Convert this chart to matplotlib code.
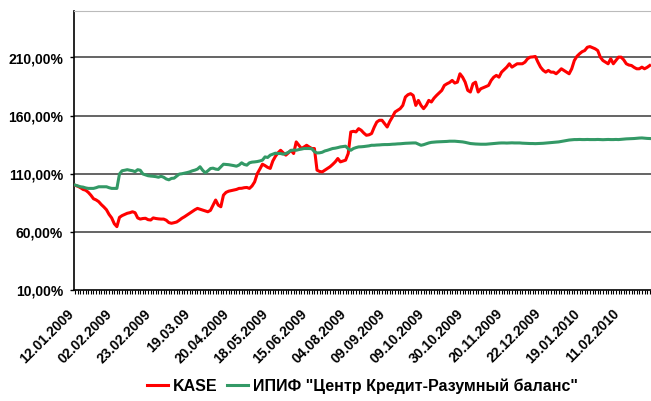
import matplotlib
matplotlib.use("Agg")
import matplotlib.pyplot as plt
from matplotlib.ticker import FuncFormatter, FixedLocator
from matplotlib.transforms import ScaledTranslation

# tick labels shown under every 15th trading day
date_labels = ["12.01.2009", "02.02.2009", "23.02.2009", "19.03.09", "20.04.2009",
               "18.05.2009", "15.06.2009", "04.08.2009", "09.09.2009", "09.10.2009",
               "30.10.2009", "20.11.2009", "22.12.2009", "19.01.2010", "11.02.2010"]
label_step = 15

kase = [
    100, 99.2, 98, 96.5, 95.8, 94, 91.5, 88.5, 87.5, 86,
    83.5, 81.4, 79, 75, 72, 67, 64.5, 72.5, 74, 75,
    76, 76.5, 77.3, 76.5, 72, 71, 71.5, 71.7, 70.5, 70.2,
    72, 71.5, 71.2, 71, 71, 70, 68, 67.4, 67.9, 68.5,
    70, 71.7, 73, 74.5, 76, 77.5, 79, 80.2, 79.5, 78.8,
    78, 77.3, 78.5, 83, 87.4, 83, 81.6, 91.6, 94, 95,
    95.5, 96, 96.5, 97.4, 97.5, 98, 98.2, 97.4, 99.5, 103,
    110, 114, 118.2, 117, 115.5, 114.6, 121, 125, 128, 130.2,
    128, 126, 128, 130.2, 127.4, 137.4, 134.5, 131.7, 133, 134.5,
    133, 131.7, 131.7, 113.1, 112, 111.6, 113.1, 114.5, 116, 118,
    120.2, 123.1, 120.2, 121, 121.7, 127.4, 146, 146.5, 146, 148.8,
    147.4, 145, 143.1, 143.5, 144.6, 150, 154.5, 156, 156, 153.1,
    150.2, 155, 158.8, 163.1, 164.5, 166, 168.8, 176, 178, 178.9,
    177.4, 168.8, 173.1, 168.8, 166, 168.8, 173.1, 171.7, 175, 177.4,
    179.5, 181.7, 186, 187.4, 188.5, 190.3, 188, 188.8, 196, 193.1,
    188.8, 181.7, 180.3, 187.4, 188.8, 180.3, 183.1, 184, 185, 186,
    190.3, 193.1, 194.6, 193.1, 197.4, 199.5, 201.7, 204.6, 201.7, 203.1,
    204.6, 204.6, 204.6, 206, 208.9, 210.3, 210.5, 210.9, 206, 201.7,
    199, 197.4, 198.9, 197.4, 197.4, 196, 198, 200.3, 198.9, 197.5,
    196, 200.3, 207.4, 211, 213.2, 215, 216, 218.8, 219.4, 218.5,
    217.5, 216, 210.3, 207.4, 206, 204.6, 208.9, 204.6, 207.4, 210.3,
    210.3, 208, 204.6, 203.5, 203.1, 201.5, 200.3, 200.3, 201.7, 200.3,
    201.5, 203.1,
]

fund = [
    100.2, 99.5, 98.8, 98.5, 97.8, 97.4, 97.4, 97.4, 98, 98.8,
    98.8, 98.8, 98.8, 98, 97.4, 97.4, 97.4, 109.8, 112.6, 113,
    113.5, 113, 112.6, 111.8, 113.5, 113, 109.8, 109, 108.3, 108,
    107.8, 107.5, 107, 107.8, 107, 105.5, 104.8, 106, 106.2, 108,
    109.7, 110, 110.5, 111, 111.6, 112.5, 113.1, 114, 116, 113,
    110.8, 112.5, 114.5, 114.8, 114, 113.7, 116, 118.2, 118, 117.8,
    117.4, 117, 116.5, 117.5, 119.4, 118, 117.4, 119.4, 120, 120.2,
    120.5, 121, 121.7, 124.5, 124, 126, 126.8, 127.7, 127.4, 127.4,
    126.8, 127.4, 128.5, 130, 130.4, 130.2, 130.8, 131.2, 131.7, 131.7,
    131.7, 131.5, 129, 127.9, 128, 128.5, 129.6, 130.2, 131, 131.7,
    132, 132.5, 133.1, 133.4, 133.7, 131.5, 130.2, 131.7, 132.5, 133.1,
    133.2, 133.4, 133.7, 134, 134.5, 134.5, 134.7, 134.8, 135, 135.1,
    135.1, 135.2, 135.4, 135.5, 135.7, 135.8, 136, 136.2, 136.3, 136.4,
    136.5, 136.5, 135.5, 134.5, 135, 135.8, 136.5, 137, 137.2, 137.4,
    137.5, 137.6, 137.7, 137.8, 138, 138, 138, 137.8, 137.6, 137.4,
    137, 136.5, 136, 135.8, 135.6, 135.5, 135.4, 135.4, 135.4, 135.6,
    135.8, 136, 136.2, 136.4, 136.5, 136.5, 136.4, 136.5, 136.6, 136.5,
    136.5, 136.5, 136.3, 136.2, 136.1, 136, 136, 135.9, 136, 136.1,
    136.2, 136.4, 136.6, 136.8, 137, 137.2, 137.4, 137.8, 138.2, 138.6,
    139, 139.2, 139.4, 139.4, 139.5, 139.4, 139.4, 139.5, 139.4, 139.4,
    139.4, 139.5, 139.4, 139.3, 139.4, 139.5, 139.4, 139.4, 139.5, 139.4,
    139.6, 139.8, 140, 140.1, 140.2, 140.3, 140.5, 140.7, 140.8, 140.6,
    140.4, 140.3,
]

series_names = ["KASE", 'ИПИФ "Центр Кредит-Разумный баланс"']
yticks = [10, 60, 110, 160, 210]

plt.rcParams['font.family'] = ['Liberation Sans', 'DejaVu Sans']
plt.rcParams['font.weight'] = 'bold'

fig = plt.figure(figsize=(6.51, 4.01), dpi=100)
ax = fig.add_axes([74 / 651, 1 - 290 / 401, 1 - 74 / 651, 279 / 401])

x = list(range(len(kase)))
ax.plot(x, kase, color='#ff0000', lw=2.2, label=series_names[0], zorder=3)
ax.plot(x, fund, color='#339966', lw=2.2, label=series_names[1], zorder=3)

ax.set_xlim(-0.5, len(kase) - 0.5)
ax.set_ylim(10, 250)

for v in yticks[1:]:
    ax.axhline(v, color='#3a3a3a', lw=1.1, zorder=1)

ax.set_yticks(yticks)
ax.yaxis.set_major_formatter(FuncFormatter(lambda v, p: f"{v:.2f}%".replace('.', ',')))
ax.tick_params(axis='y', length=3, width=1, labelsize=10, pad=5)

ax.xaxis.set_major_locator(FixedLocator([i * label_step for i in range(len(date_labels))]))
ax.set_xticklabels(date_labels, rotation=45, ha='right', va='top',
                   rotation_mode='anchor', fontsize=10, fontweight='bold')
ax.xaxis.set_minor_locator(FixedLocator(x))
ax.tick_params(axis='x', which='both', length=3, width=0.8, pad=6)
shift = ScaledTranslation(-9 / 100, -4 / 100, fig.dpi_scale_trans)
for lab in ax.get_xticklabels():
    lab.set_transform(lab.get_transform() + shift)

for side in ['left', 'bottom']:
    ax.spines[side].set_color('black')
    ax.spines[side].set_linewidth(1.2)
ax.spines['right'].set_visible(False)
ax.spines['top'].set_color('#bbbbbb')

leg = ax.legend(loc='center', bbox_to_anchor=(0.5, -0.345), ncol=2, frameon=False,
                handlelength=1.3, handletextpad=0.3, columnspacing=0.6,
                prop={'size': 11.5, 'weight': 'bold'})

fig.savefig('out.png', dpi=100)
